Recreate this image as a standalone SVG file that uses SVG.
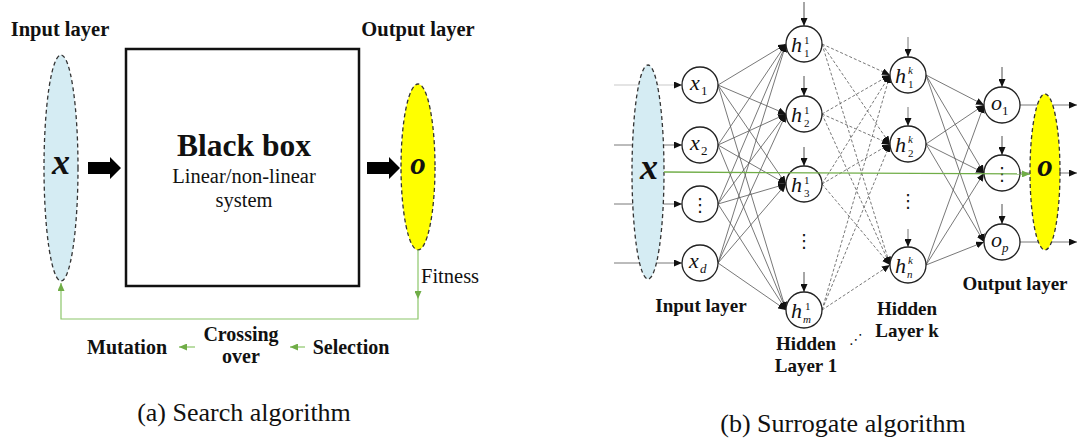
<svg xmlns="http://www.w3.org/2000/svg" width="1078" height="440" viewBox="0 0 1078 440">
<style>
.b{font-family:"Liberation Serif","Times New Roman",serif;font-weight:bold;fill:#111}
.r{font-family:"Liberation Serif","Times New Roman",serif;fill:#111}
.m{font-family:"Liberation Serif","Times New Roman",serif;font-style:italic;font-size:22px;fill:#111}
.ms{font-size:13px}
.ss{font-size:11px}
.up{font-style:normal}
.dots{font-family:"DejaVu Sans",sans-serif;font-size:18px;fill:#111}
.e{stroke:#555;stroke-width:0.8;fill:none}
.d{stroke:#555;stroke-width:0.8;fill:none;stroke-dasharray:3 2}
.nd{fill:#fff;stroke:#222;stroke-width:1.3}
.g{stroke:#8cc66a;stroke-width:1.2;fill:none}
</style>
<defs>
<marker id="ah" markerUnits="userSpaceOnUse" markerWidth="8" markerHeight="7" refX="8" refY="3.5" orient="auto"><path d="M0,0 L8,3.5 L0,7 z" fill="#111"/></marker>
<marker id="gh" markerUnits="userSpaceOnUse" markerWidth="8" markerHeight="7" refX="8" refY="3.5" orient="auto"><path d="M0,0 L8,3.5 L0,7 z" fill="#70ad47"/></marker>
</defs>
<rect width="1078" height="440" fill="#fff"/>

<!-- (a) Search algorithm -->
<g id="input-a">
<text class="b" x="60" y="36" font-size="20.5" text-anchor="middle">Input layer</text>
<ellipse cx="61" cy="168" rx="17" ry="113" fill="#d5ecf3" stroke="#333" stroke-width="1.3" stroke-dasharray="4 3"/>
<text class="b" x="61" y="174" font-size="36" font-style="italic" text-anchor="middle">x</text>
</g>
<g id="blackbox">
<rect x="126" y="49" width="233" height="237" fill="#fff" stroke="#111" stroke-width="2.5"/>
<text class="b" x="244" y="156" font-size="31.5" text-anchor="middle">Black box</text>
<text class="r" x="244" y="183" font-size="20.5" text-anchor="middle">Linear/non-linear</text>
<text class="r" x="244" y="207" font-size="20.5" text-anchor="middle">system</text>
</g>
<g id="output-a">
<text class="b" x="418" y="36" font-size="20.5" text-anchor="middle">Output layer</text>
<ellipse cx="418" cy="167" rx="17" ry="83" fill="#ffff00" stroke="#333" stroke-width="1.3" stroke-dasharray="4 3"/>
<text class="b" x="418" y="174" font-size="31" font-style="italic" text-anchor="middle">o</text>
</g>
<g id="loop-labels">
<text class="r" x="421" y="283" font-size="20.5">Fitness</text>
<text class="b" x="127" y="354" font-size="20" text-anchor="middle">Mutation</text>
<text class="b" x="241" y="341" font-size="20" text-anchor="middle">Crossing</text>
<text class="b" x="241" y="363" font-size="20" text-anchor="middle">over</text>
<text class="b" x="351" y="354" font-size="20" text-anchor="middle">Selection</text>
<text class="r" x="244" y="421" font-size="26" text-anchor="middle">(a) Search algorithm</text>
</g>
<g id="connectors-a">
<polygon points="88,162 110,162 110,157 121,168 110,179 110,174 88,174" fill="#000"/>
<polygon points="367,162 389,162 389,157 400,168 389,179 389,174 367,174" fill="#000"/>
<line class="g" x1="418" y1="250" x2="418" y2="299" marker-end="url(#gh)"/>
<polyline class="g" points="418,299 418,319 61,319 61,283" marker-end="url(#gh)"/>
<line class="g" x1="195" y1="347" x2="179" y2="347" marker-end="url(#gh)"/>
<line class="g" x1="305" y1="347" x2="290" y2="347" marker-end="url(#gh)"/>
</g>

<!-- (b) Surrogate algorithm -->
<g id="connectors-b">
<line class="e" x1="614" y1="85" x2="682" y2="85" marker-end="url(#ah)" style="stroke:#bbb"/>
<line class="e" x1="614" y1="145" x2="682" y2="145" marker-end="url(#ah)"/>
<line class="e" x1="614" y1="204" x2="682" y2="204" marker-end="url(#ah)"/>
<line class="e" x1="614" y1="263" x2="682" y2="263" marker-end="url(#ah)"/>
<!-- input to hidden 1 -->
<line class="e" x1="718" y1="85" x2="786" y2="44" marker-end="url(#ah)"/>
<line class="e" x1="718" y1="85" x2="786" y2="114" marker-end="url(#ah)"/>
<line class="e" x1="718" y1="85" x2="786" y2="184" marker-end="url(#ah)"/>
<line class="e" x1="718" y1="85" x2="786" y2="310" marker-end="url(#ah)"/>
<line class="e" x1="718" y1="145" x2="786" y2="44" marker-end="url(#ah)"/>
<line class="e" x1="718" y1="145" x2="786" y2="114" marker-end="url(#ah)"/>
<line class="e" x1="718" y1="145" x2="786" y2="184" marker-end="url(#ah)"/>
<line class="e" x1="718" y1="145" x2="786" y2="310" marker-end="url(#ah)"/>
<line class="e" x1="718" y1="204" x2="786" y2="44" marker-end="url(#ah)"/>
<line class="e" x1="718" y1="204" x2="786" y2="114" marker-end="url(#ah)"/>
<line class="e" x1="718" y1="204" x2="786" y2="184" marker-end="url(#ah)"/>
<line class="e" x1="718" y1="204" x2="786" y2="310" marker-end="url(#ah)"/>
<line class="e" x1="718" y1="263" x2="786" y2="44" marker-end="url(#ah)"/>
<line class="e" x1="718" y1="263" x2="786" y2="114" marker-end="url(#ah)"/>
<line class="e" x1="718" y1="263" x2="786" y2="184" marker-end="url(#ah)"/>
<line class="e" x1="718" y1="263" x2="786" y2="310" marker-end="url(#ah)"/>
<!-- hidden 1 to hidden k (dashed) -->
<line class="d" x1="822" y1="44" x2="890" y2="75" marker-end="url(#ah)"/>
<line class="d" x1="822" y1="44" x2="890" y2="144" marker-end="url(#ah)"/>
<line class="d" x1="822" y1="44" x2="890" y2="265" marker-end="url(#ah)"/>
<line class="d" x1="822" y1="114" x2="890" y2="75" marker-end="url(#ah)"/>
<line class="d" x1="822" y1="114" x2="890" y2="144" marker-end="url(#ah)"/>
<line class="d" x1="822" y1="114" x2="890" y2="265" marker-end="url(#ah)"/>
<line class="d" x1="822" y1="184" x2="890" y2="75" marker-end="url(#ah)"/>
<line class="d" x1="822" y1="184" x2="890" y2="144" marker-end="url(#ah)"/>
<line class="d" x1="822" y1="184" x2="890" y2="265" marker-end="url(#ah)"/>
<line class="d" x1="822" y1="310" x2="890" y2="75" marker-end="url(#ah)"/>
<line class="d" x1="822" y1="310" x2="890" y2="144" marker-end="url(#ah)"/>
<line class="d" x1="822" y1="310" x2="890" y2="265" marker-end="url(#ah)"/>
<!-- hidden k to output -->
<line class="e" x1="926" y1="75" x2="984" y2="105" marker-end="url(#ah)"/>
<line class="e" x1="926" y1="75" x2="984" y2="173" marker-end="url(#ah)"/>
<line class="e" x1="926" y1="75" x2="984" y2="242" marker-end="url(#ah)"/>
<line class="e" x1="926" y1="144" x2="984" y2="105" marker-end="url(#ah)"/>
<line class="e" x1="926" y1="144" x2="984" y2="173" marker-end="url(#ah)"/>
<line class="e" x1="926" y1="144" x2="984" y2="242" marker-end="url(#ah)"/>
<line class="e" x1="926" y1="265" x2="984" y2="105" marker-end="url(#ah)"/>
<line class="e" x1="926" y1="265" x2="984" y2="173" marker-end="url(#ah)"/>
<line class="e" x1="926" y1="265" x2="984" y2="242" marker-end="url(#ah)"/>
<!-- bias arrows -->
<line class="e" x1="804" y1="2" x2="804" y2="26" marker-end="url(#ah)" style="stroke:#222"/>
<line class="e" x1="804" y1="76" x2="804" y2="96" marker-end="url(#ah)" style="stroke:#222"/>
<line class="e" x1="804" y1="147" x2="804" y2="166" marker-end="url(#ah)" style="stroke:#222"/>
<line class="e" x1="804" y1="272" x2="804" y2="292" marker-end="url(#ah)" style="stroke:#222"/>
<line class="e" x1="908" y1="37" x2="908" y2="57" marker-end="url(#ah)"/>
<line class="e" x1="908" y1="107" x2="908" y2="126" marker-end="url(#ah)"/>
<line class="e" x1="908" y1="229" x2="908" y2="247" marker-end="url(#ah)"/>
<line class="e" x1="1002" y1="67" x2="1002" y2="87" marker-end="url(#ah)" style="stroke:#222"/>
<line class="e" x1="1002" y1="136" x2="1002" y2="155" marker-end="url(#ah)" style="stroke:#222"/>
<line class="e" x1="1002" y1="204" x2="1002" y2="224" marker-end="url(#ah)" style="stroke:#222"/>
<!-- outputs -->
<line class="e" x1="1020" y1="105" x2="1077" y2="105" marker-end="url(#ah)"/>
<line class="e" x1="1020" y1="173" x2="1077" y2="173" marker-end="url(#ah)"/>
<line class="e" x1="1020" y1="242" x2="1077" y2="242" marker-end="url(#ah)"/>
</g>

<g id="input-ellipse-b">
<ellipse cx="648" cy="172" rx="16" ry="107" fill="#d5ecf3" stroke="#333" stroke-width="1.3" stroke-dasharray="4 3"/>
<text class="b" x="649" y="179" font-size="36" font-style="italic" text-anchor="middle">x</text>
</g>
<g id="x1"><circle class="nd" cx="700" cy="85" r="18"/><text class="m" x="690" y="90">x<tspan class="ms up" x="701" y="95">1</tspan></text></g>
<g id="x2"><circle class="nd" cx="700" cy="145" r="18"/><text class="m" x="690" y="150">x<tspan class="ms up" x="701" y="155">2</tspan></text></g>
<g id="xdots"><circle class="nd" cx="700" cy="204" r="18"/><text class="dots" x="700" y="211" text-anchor="middle">⋮</text></g>
<g id="xd"><circle class="nd" cx="700" cy="263" r="18"/><text class="m" x="689" y="268">x<tspan class="ms" x="700" y="273">d</tspan></text></g>

<g id="h1-1"><circle class="nd" cx="804" cy="44" r="18"/><text class="m" x="791" y="52">h<tspan class="ss up" x="804" y="44">1</tspan><tspan class="ss up" x="804" y="57">1</tspan></text></g>
<g id="h1-2"><circle class="nd" cx="804" cy="114" r="18"/><text class="m" x="791" y="122">h<tspan class="ss up" x="804" y="114">1</tspan><tspan class="ss up" x="804" y="127">2</tspan></text></g>
<g id="h1-3"><circle class="nd" cx="804" cy="184" r="18"/><text class="m" x="791" y="192">h<tspan class="ss up" x="804" y="184">1</tspan><tspan class="ss up" x="804" y="197">3</tspan></text></g>
<g id="h1-dots"><text class="dots" x="804" y="247" text-anchor="middle">⋮</text></g>
<g id="h1-m"><circle class="nd" cx="804" cy="310" r="18"/><text class="m" x="791" y="318">h<tspan class="ss up" x="805" y="310">1</tspan><tspan class="ss" x="803" y="323">m</tspan></text></g>

<g id="hk-1"><circle class="nd" cx="908" cy="75" r="18"/><text class="m" x="895" y="83">h<tspan class="ss" x="908" y="74">k</tspan><tspan class="ss up" x="908" y="88">1</tspan></text></g>
<g id="hk-2"><circle class="nd" cx="908" cy="144" r="18"/><text class="m" x="895" y="152">h<tspan class="ss" x="908" y="143">k</tspan><tspan class="ss up" x="908" y="157">2</tspan></text></g>
<g id="hk-dots"><text class="dots" x="908" y="207" text-anchor="middle">⋮</text></g>
<g id="hk-n"><circle class="nd" cx="908" cy="265" r="18"/><text class="m" x="895" y="273">h<tspan class="ss" x="908" y="264">k</tspan><tspan class="ss" x="907" y="278">n</tspan></text></g>

<g id="o1"><circle class="nd" cx="1002" cy="105" r="18"/><text class="m" x="991" y="110">o<tspan class="ms up" x="1002" y="115">1</tspan></text></g>
<g id="odots"><circle class="nd" cx="1002" cy="173" r="18"/><text class="dots" x="1002" y="180" text-anchor="middle">⋮</text></g>
<g id="op"><circle class="nd" cx="1002" cy="242" r="18"/><text class="m" x="991" y="247">o<tspan class="ms" x="1002" y="252">p</tspan></text></g>

<g id="output-ellipse-b">
<ellipse cx="1045" cy="172" rx="15" ry="78" fill="#ffff00" stroke="#333" stroke-width="1.3" stroke-dasharray="4 3"/>
<text class="b" x="1045" y="176" font-size="31" font-style="italic" text-anchor="middle">o</text>
</g>
<g id="green-link">
<line x1="664" y1="172" x2="1030" y2="174" stroke="#70ad47" stroke-width="1.3" marker-end="url(#gh)"/>
</g>
<g id="labels-b">
<text class="b" x="701" y="312" font-size="19" text-anchor="middle">Input layer</text>
<text class="b" x="806" y="350" font-size="19" text-anchor="middle">Hidden</text>
<text class="b" x="806" y="372" font-size="19" text-anchor="middle">Layer 1</text>
<text class="dots" x="856" y="344" text-anchor="middle" style="font-size:14px">⋰</text>
<text class="b" x="907" y="315" font-size="19" text-anchor="middle">Hidden</text>
<text class="b" x="907" y="337" font-size="19" text-anchor="middle">Layer k</text>
<text class="b" x="1015" y="290" font-size="19" text-anchor="middle">Output layer</text>
<text class="r" x="843" y="432" font-size="26" text-anchor="middle">(b) Surrogate algorithm</text>
</g>
</svg>
